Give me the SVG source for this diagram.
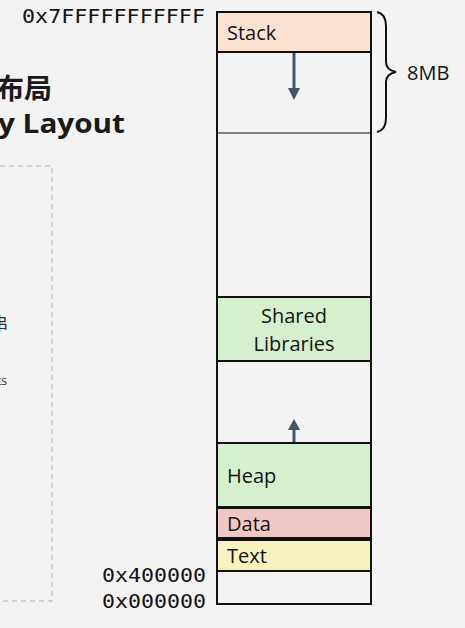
<svg xmlns="http://www.w3.org/2000/svg" width="465" height="628" viewBox="0 0 465 628">
<style>
.seg{stroke:#111;stroke-width:2}
.lbl{font-family:"Open Sans","Noto Sans",sans-serif;font-size:20px;fill:#141414}
.hex{font-family:"DejaVu Sans Mono","Liberation Mono",monospace;font-size:19px;fill:#141414}
.arr{stroke:#44546a;stroke-width:3;fill:none}
.head{fill:#44546a}
</style>
<rect width="465" height="628" fill="#f3f3f3"/>
<g id="title">
<text x="-4" y="99" font-family="Noto Sans CJK SC,sans-serif" font-size="28" font-weight="bold" fill="#1a1a1a">布局</text>
<text x="-2" y="133" font-family="Open Sans,sans-serif" font-size="27" font-weight="bold" fill="#1a1a1a" textLength="127" lengthAdjust="spacingAndGlyphs">y Layout</text>
</g>
<g id="sidebox">
<path d="M0 166 H52 V601 H0" fill="none" stroke="#a2b6ce" stroke-width="1" stroke-dasharray="5 4"/>
<text x="-9" y="330" font-family="Noto Sans CJK SC,sans-serif" font-size="17" fill="#333">串</text>
<text x="-3" y="385" font-family="Open Sans,sans-serif" font-size="12" fill="#333">ts</text>
</g>
<g id="addresses">
<text class="hex" x="22" y="23" textLength="183" lengthAdjust="spacingAndGlyphs">0x7FFFFFFFFFFF</text>
<text class="hex" x="102" y="582" textLength="104" lengthAdjust="spacingAndGlyphs">0x400000</text>
<text class="hex" x="102" y="608" textLength="104" lengthAdjust="spacingAndGlyphs">0x000000</text>
</g>
<g id="empty-upper"><rect class="seg" x="217" y="52" width="154" height="245" fill="#f3f3f3"/>
<line x1="218" y1="133" x2="370" y2="133" stroke="#808080" stroke-width="2"/></g>
<g id="stack"><rect class="seg" x="217" y="12" width="154" height="40" fill="#fbe2d2"/>
<text class="lbl" x="227" y="40">Stack</text></g>
<g id="shared-libraries"><rect class="seg" x="217" y="297" width="154" height="64" fill="#d5efcf"/>
<text class="lbl" x="294" y="323" text-anchor="middle">Shared</text>
<text class="lbl" x="294" y="351" text-anchor="middle">Libraries</text></g>
<g id="empty-middle"><rect class="seg" x="217" y="361" width="154" height="82" fill="#f3f3f3"/></g>
<g id="heap"><rect class="seg" x="217" y="443" width="154" height="64" fill="#d5efcf"/>
<text class="lbl" x="227" y="483">Heap</text></g>
<g id="data"><rect class="seg" x="217" y="508" width="154" height="30" fill="#f1c6c6"/>
<text class="lbl" x="227" y="531">Data</text></g>
<g id="text"><rect class="seg" x="217" y="540" width="154" height="31" fill="#f7f4c0"/>
<text class="lbl" x="227" y="563">Text</text></g>
<g id="empty-bottom"><rect class="seg" x="217" y="571" width="154" height="33" fill="#f3f3f3"/></g>
<g id="connectors">
<line class="arr" x1="294" y1="53" x2="294" y2="89"/>
<polygon class="head" points="288,88 300,88 294,100"/>
<line class="arr" x1="294" y1="442" x2="294" y2="429"/>
<polygon class="head" points="288,430 300,430 294,419"/>
<path d="M377 12 Q386 14 386 26 V62 Q386 70 396 72 Q386 74 386 82 V118 Q386 130 377 132" fill="none" stroke="#111" stroke-width="2"/>
</g>
<g id="size-label"><text class="lbl" x="407" y="80">8MB</text></g>
</svg>
